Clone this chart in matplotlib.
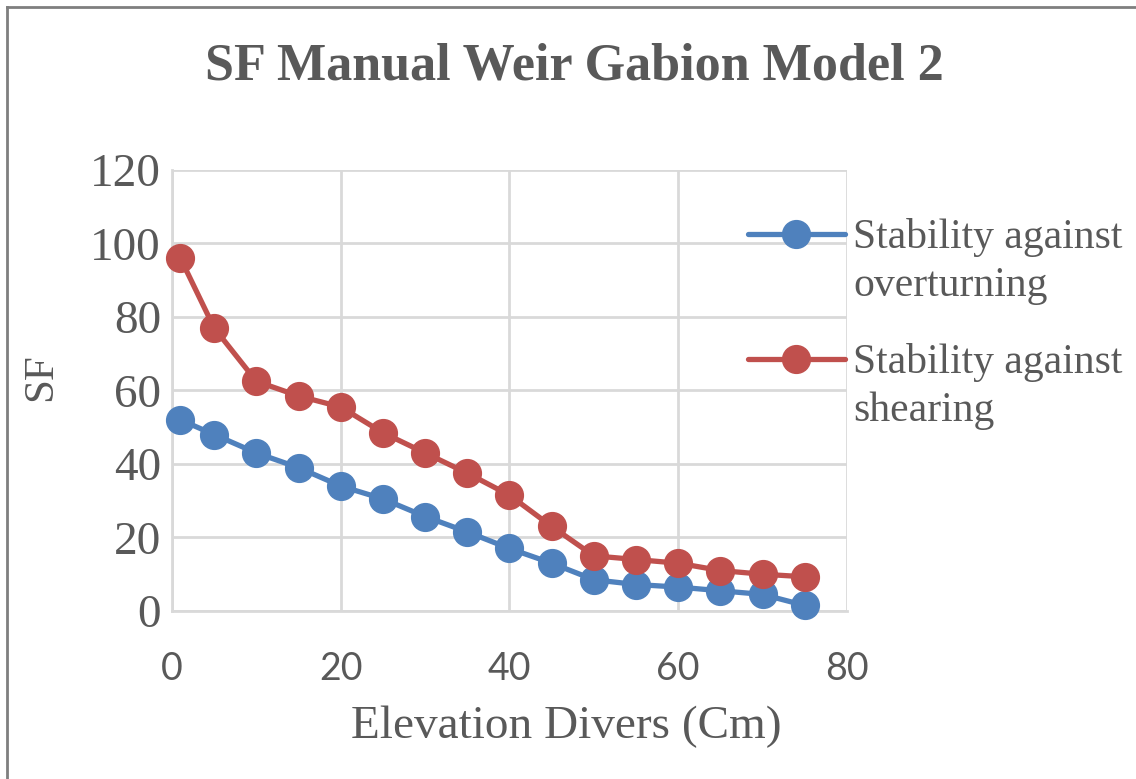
import matplotlib
matplotlib.use("Agg")
import matplotlib.pyplot as plt
from matplotlib.lines import Line2D

# Elevation of the diversion (cm) and safety factors for each check
elevation = [1, 5, 10, 15, 20, 25, 30, 35, 40, 45, 50, 55, 60, 65, 70, 75]
sf_overturning = [52, 48, 43, 39, 34, 30.5, 25.7, 21.5, 17, 13, 8.5, 7.2, 6.5, 5.5, 4.5, 1.5]
sf_shearing = [96, 77, 62.5, 58.5, 55.5, 48.5, 43, 37.5, 31.5, 23, 15, 14, 13, 11, 10, 9.3]
series_labels = ["Stability against\noverturning", "Stability against\nshearing"]

x_ticks = [0, 20, 40, 60, 80]
y_ticks = [0, 20, 40, 60, 80, 100, 120]

blue = "#4F81BD"
red = "#C0504D"
text_grey = "#595959"
grid_grey = "#D9D9D9"
serif = "Liberation Serif"

fig = plt.figure(figsize=(11.36, 7.79), dpi=100)
ax = fig.add_axes([0.1514, 0.2157, 0.5942, 0.5661])

series = [(sf_overturning, blue), (sf_shearing, red)]
for values, col in series:
    ax.plot(elevation, values, color=col, lw=3.8, marker="o", ms=20,
            clip_on=False, zorder=3)

ax.set_xlim(0, 80)
ax.set_ylim(0, 120)
ax.set_xticks(x_ticks)
ax.set_yticks(y_ticks)
ax.grid(True, color=grid_grey, lw=2)
ax.set_axisbelow(True)
for side in ["top", "right"]:
    ax.spines[side].set_visible(False)
for side in ["left", "bottom"]:
    ax.spines[side].set_color(grid_grey)
    ax.spines[side].set_linewidth(2)

ax.tick_params(length=0)
ax.tick_params(axis="x", pad=29, labelsize=27, labelcolor=text_grey)
ax.tick_params(axis="y", pad=8, labelsize=34, labelcolor=text_grey)
for lbl in ax.get_xticklabels():
    lbl.set_family("Lato")
for lbl in ax.get_yticklabels():
    lbl.set_family(serif)

ax.set_xlabel("Elevation Divers (Cm)", fontsize=34, family=serif, color=text_grey)
ax.xaxis.set_label_coords(0.584, -0.215)
ax.set_ylabel("SF", fontsize=31, family=serif, color=text_grey)
ax.yaxis.set_label_coords(-0.166, 0.53)

fig.text(0.506, 0.914, "SF Manual Weir Gabion Model 2", ha="center", va="center",
         fontsize=37.5, fontweight="bold", family=serif, color=text_grey)

# legend drawn by hand so the key sits on the first line of each label
leg_rows = [0.6996, 0.5392]
line_step = 48 / 779
for (values, col), label, y in zip(series, series_labels, leg_rows):
    fig.add_artist(Line2D([0.6585, 0.7438], [y, y], transform=fig.transFigure,
                          color=col, lw=3.8, solid_capstyle="round"))
    fig.add_artist(Line2D([0.7011], [y], transform=fig.transFigure, color=col,
                          marker="o", ms=20, lw=0))
    for i, part in enumerate(label.split("\n")):
        fig.text(0.7509, y - 14 / 779 - i * line_step, part, ha="left", va="baseline",
                 fontsize=30, family=serif, color=text_grey)

# chart frame edges
fig.add_artist(Line2D([0.0062, 0.0062], [0, 0.991], transform=fig.transFigure, color="#7F7F7F", lw=2))
fig.add_artist(Line2D([0.0062, 1], [0.991, 0.991], transform=fig.transFigure, color="#7F7F7F", lw=2))

fig.savefig("out.png", dpi=100)
